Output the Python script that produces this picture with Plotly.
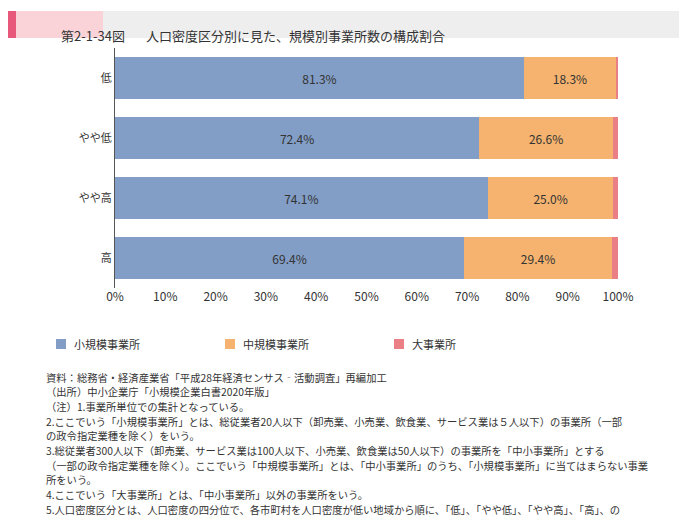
import plotly.graph_objects as go

# Data
categories = ["低", "やや低", "やや高", "高"]
small = [81.3, 72.4, 74.1, 69.4]
medium = [18.3, 26.6, 25.0, 29.4]
large = [0.4, 1.0, 0.9, 1.2]
series_names = ["小規模事業所", "中規模事業所", "大事業所"]
colors = ["#829ec6", "#f5b36f", "#ea7f86"]
tick_vals = list(range(0, 101, 10))
tick_text = [f"{v}%" for v in tick_vals]

W, H = 687, 520
L, R, T, B = 107, 610, 40, 280
FONT = "Noto Sans CJK JP"


def px(x):
    return (x - L) / (R - L)


def py(y):
    return (B - y) / (B - T)


fig = go.Figure()
for name, vals, c in zip(series_names, [small, medium, large], colors):
    fig.add_trace(go.Bar(
        y=categories, x=vals, name=name, orientation="h",
        marker=dict(color=c, line=dict(width=0)),
        text=[f"{v:.1f}%" if v > 5 else "" for v in vals],
        textposition="inside", insidetextanchor="middle",
        textfont=dict(size=12, color="#333333", family=FONT),
        hoverinfo="x+name", showlegend=False,
    ))

notes = [
    "資料：総務省・経済産業省「平成28年経済センサス‐活動調査」再編加工",
    "（出所）中小企業庁「小規模企業白書2020年版」",
    "（注）1.事業所単位での集計となっている。",
    "2.ここでいう「小規模事業所」とは、総従業者20人以下（卸売業、小売業、飲食業、サービス業は５人以下）の事業所（一部",
    "の政令指定業種を除く）をいう。",
    "3.総従業者300人以下（卸売業、サービス業は100人以下、小売業、飲食業は50人以下）の事業所を「中小事業所」とする",
    "（一部の政令指定業種を除く）。ここでいう「中規模事業所」とは、「中小事業所」のうち、「小規模事業所」に当てはまらない事業",
    "所をいう。",
    "4.ここでいう「大事業所」とは、「中小事業所」以外の事業所をいう。",
    "5.人口密度区分とは、人口密度の四分位で、各市町村を人口密度が低い地域から順に、「低」、「やや低」、「やや高」、「高」、の",
    "四つに分けたもの。",
]

shapes = [
    dict(type="rect", xref="paper", yref="paper", x0=px(95), x1=px(687),
         y0=py(30), y1=py(3), fillcolor="#eeeeee", line_width=0),
    dict(type="rect", xref="paper", yref="paper", x0=px(0), x1=px(95),
         y0=py(30), y1=py(3), fillcolor="#f9d3d8", line_width=0),
    dict(type="rect", xref="paper", yref="paper", x0=px(0), x1=px(8),
         y0=py(30), y1=py(3), fillcolor="#e8587a", line_width=0),
]
annotations = [
    dict(text="第2-1-34図", xref="paper", yref="paper", x=px(51), y=py(16),
         showarrow=False, font=dict(size=13, color="#333333")),
    dict(text="人口密度区分別に見た、規模別事業所数の構成割合", xref="paper",
         yref="paper", x=px(136), y=py(16), xanchor="left", showarrow=False,
         font=dict(size=13, color="#333333")),
]

# manual legend
for i, (name, c) in enumerate(zip(series_names, colors)):
    x0 = 48 + i * 169
    shapes.append(dict(type="rect", xref="paper", yref="paper",
                       x0=px(x0), x1=px(x0 + 10), y0=py(341), y1=py(331),
                       fillcolor=c, line_width=0))
    annotations.append(dict(text=name, xref="paper", yref="paper",
                            x=px(x0 + 16), y=py(336), xanchor="left",
                            yanchor="middle", showarrow=False,
                            font=dict(size=11, color="#333333")))

for i, line in enumerate(notes):
    annotations.append(dict(text=line, xref="paper", yref="paper", x=px(36),
                            y=py(369 + i * 14.7), xanchor="left",
                            yanchor="middle", showarrow=False,
                            font=dict(size=10.3, color="#333333")))

fig.update_layout(
    width=W, height=H, barmode="stack", bargap=0.3,
    margin=dict(l=L, r=W - R, t=T, b=H - B, autoexpand=False),
    plot_bgcolor="white", paper_bgcolor="white",
    font=dict(family=FONT, size=12, color="#333333"),
    xaxis=dict(range=[0, 100], tickvals=tick_vals, ticktext=tick_text,
               showgrid=False, zeroline=False, automargin=False,
               ticks="", tickfont=dict(size=12)),
    yaxis=dict(autorange="reversed", showline=True, linecolor="#555555",
               linewidth=1, ticks="", automargin=False,
               tickfont=dict(size=11)),
    showlegend=False,
    shapes=shapes,
    annotations=annotations,
)

fig.write_html("out.html")
